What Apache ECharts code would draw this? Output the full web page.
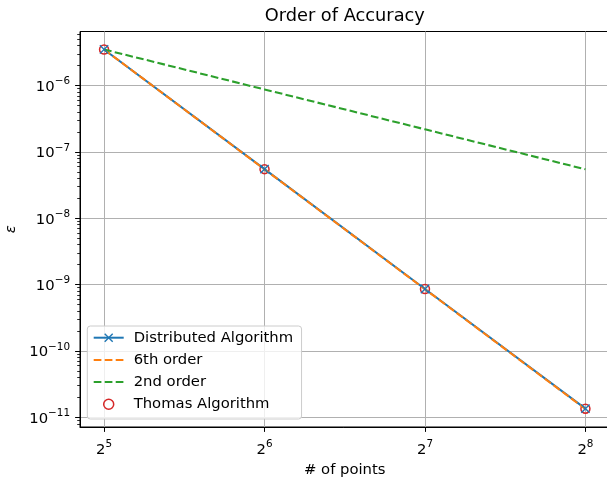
<!DOCTYPE html>
<html>
<head>
<meta charset="utf-8">
<script src="https://cdn.jsdelivr.net/npm/echarts@6/dist/echarts.min.js"></script>
<style>html,body{margin:0;padding:0;background:#fff}#c{width:607px;height:477px}</style>
</head>
<body>
<div id="c"></div>
<script>
// ---- data ----
const points = [32, 64, 128, 256];
const distributed = [3.5e-6, 5.5e-8, 8.6e-10, 1.35e-11];
const sixthOrder = [3.5e-6, 5.47e-8, 8.54e-10, 1.335e-11];
const secondOrder = [3.5e-6, 8.75e-7, 2.19e-7, 5.47e-8];
const thomas = [3.5e-6, 5.5e-8, 8.6e-10, 1.35e-11];
const xTickExps = [5, 6, 7, 8];
const yTickExps = [-11, -10, -9, -8, -7, -6];
const seriesNames = ['Distributed Algorithm', '6th order', '2nd order', 'Thomas Algorithm'];

// ---- helpers ----
const FONT = 'DejaVu Sans';
const FS = 14.8;
const toXY = arr => arr.map((v, i) => [Math.log2(points[i]), Math.log10(v)]);
const allLogY = [].concat(distributed, sixthOrder, secondOrder, thomas).map(v => Math.log10(v));
const yLo = Math.min.apply(null, allLogY), yHi = Math.max.apply(null, allLogY);
const yMin = yLo - 0.05 * (yHi - yLo), yMax = yHi + 0.05 * (yHi - yLo);
const xLo = Math.log2(points[0]), xHi = Math.log2(points[points.length - 1]);
const xMin = xLo - 0.05 * (xHi - xLo), xMax = xHi + 0.05 * (xHi - xLo);
const minorY = [];
for (let d = Math.floor(yMin); d <= Math.ceil(yMax); d++) {
  for (let k = 2; k <= 9; k++) {
    const p = d + Math.log10(k);
    if (p >= yMin && p <= yMax) minorY.push(p);
  }
}
const rich = {
  b: {fontFamily: FONT, fontSize: FS, lineHeight: 18, color: '#000', verticalAlign: 'bottom'},
  s: {fontFamily: FONT, fontSize: 10.4, lineHeight: 10, color: '#000', verticalAlign: 'top'}
};
const DASH = [7.7, 3.3];
const noSymbol = {color: 'rgba(0,0,0,0)', borderWidth: 0, opacity: 0};

const chart = echarts.init(document.getElementById('c'), null, {renderer: 'canvas'});
chart.setOption({
  animation: false,
  backgroundColor: '#fff',
  textStyle: {fontFamily: FONT},
  grid: {
    left: 80, top: 31.5, width: 529.5, height: 395.5,
    show: true, borderColor: '#000', borderWidth: 1, backgroundColor: 'transparent',
    containLabel: false, outerBoundsMode: 'none'
  },
  graphic: [{
    type: 'text', x: 344.75, y: 16.5, silent: true,
    style: {text: 'Order of Accuracy', fontFamily: FONT, fontSize: 17.8, fill: '#000', align: 'center', verticalAlign: 'middle'}
  }],
  legend: {
    orient: 'vertical', left: 87.3, top: 326,
    padding: [4.2, 8.4, 7.2, 5.4],
    backgroundColor: 'rgba(255,255,255,0.8)', borderColor: '#cccccc', borderWidth: 1, borderRadius: 3,
    itemWidth: 30, itemHeight: 10, itemGap: 7.2,
    selectedMode: false,
    textStyle: {fontFamily: FONT, fontSize: FS, color: '#000', lineHeight: 15, padding: [0, 0, 0, 5]},
    data: [
      {name: seriesNames[0], itemStyle: {borderWidth: 1.4}},
      {name: seriesNames[1], itemStyle: noSymbol},
      {name: seriesNames[2], itemStyle: noSymbol},
      {name: seriesNames[3], itemStyle: {borderWidth: 1.5}}
    ]
  },
  xAxis: {
    type: 'value', min: xMin, max: xMax,
    name: '# of points', nameLocation: 'middle', nameGap: 34.3,
    nameTextStyle: {fontFamily: FONT, fontSize: FS, color: '#000'},
    axisLine: {show: true, lineStyle: {color: '#000', width: 1}},
    axisTick: {show: true, customValues: xTickExps, length: 4.9, lineStyle: {color: '#000', width: 1}},
    axisLabel: {customValues: xTickExps, margin: 12.3, formatter: v => '{b|2}{s|' + Math.round(v) + '}', rich: rich},
    splitLine: {show: true, lineStyle: {color: '#b0b0b0', width: 1}}
  },
  yAxis: [{
    type: 'value', min: yMin, max: yMax,
    name: 'ε', nameLocation: 'middle', nameGap: 61,
    nameTextStyle: {fontFamily: FONT, fontSize: FS, color: '#000', fontStyle: 'italic'},
    axisLine: {show: true, lineStyle: {color: '#000', width: 1}},
    axisTick: {show: true, customValues: yTickExps, length: 4.9, lineStyle: {color: '#000', width: 1}},
    axisLabel: {customValues: yTickExps, margin: 10, formatter: v => '{b|10}{s|\u2212' + Math.abs(Math.round(v)) + '}', rich: rich},
    splitLine: {show: true, lineStyle: {color: '#b0b0b0', width: 1}}
  }, {
    type: 'value', min: yMin, max: yMax, position: 'left', offset: 0,
    axisLine: {show: false},
    axisTick: {show: true, customValues: minorY, length: 2.8, lineStyle: {color: '#000', width: 0.83}},
    axisLabel: {show: false},
    splitLine: {show: false}
  }],
  series: [{
    type: 'line', name: seriesNames[0], data: toXY(distributed), yAxisIndex: 0,
    symbol: 'path://M0,0L10,10M10,0L0,10', symbolSize: 8.3, showSymbol: true,
    lineStyle: {color: '#1f77b4', width: 2.08},
    itemStyle: {color: '#1f77b4', borderColor: '#1f77b4', borderWidth: 1.4},
    emphasis: {disabled: true}, silent: true
  }, {
    type: 'line', name: seriesNames[1], data: toXY(sixthOrder), yAxisIndex: 0,
    symbol: 'none',
    lineStyle: {color: '#ff7f0e', width: 2.08, type: DASH},
    itemStyle: {color: '#ff7f0e'},
    emphasis: {disabled: true}, silent: true
  }, {
    type: 'line', name: seriesNames[2], data: toXY(secondOrder), yAxisIndex: 0,
    symbol: 'none',
    lineStyle: {color: '#2ca02c', width: 2.08, type: DASH},
    itemStyle: {color: '#2ca02c'},
    emphasis: {disabled: true}, silent: true
  }, {
    type: 'scatter', name: seriesNames[3], data: toXY(thomas), yAxisIndex: 0,
    symbol: 'circle', symbolSize: 9,
    itemStyle: {color: 'rgba(0,0,0,0)', borderColor: '#d62728', borderWidth: 1.5, opacity: 1},
    emphasis: {disabled: true}, silent: true
  }]
});
</script>
</body>
</html>
